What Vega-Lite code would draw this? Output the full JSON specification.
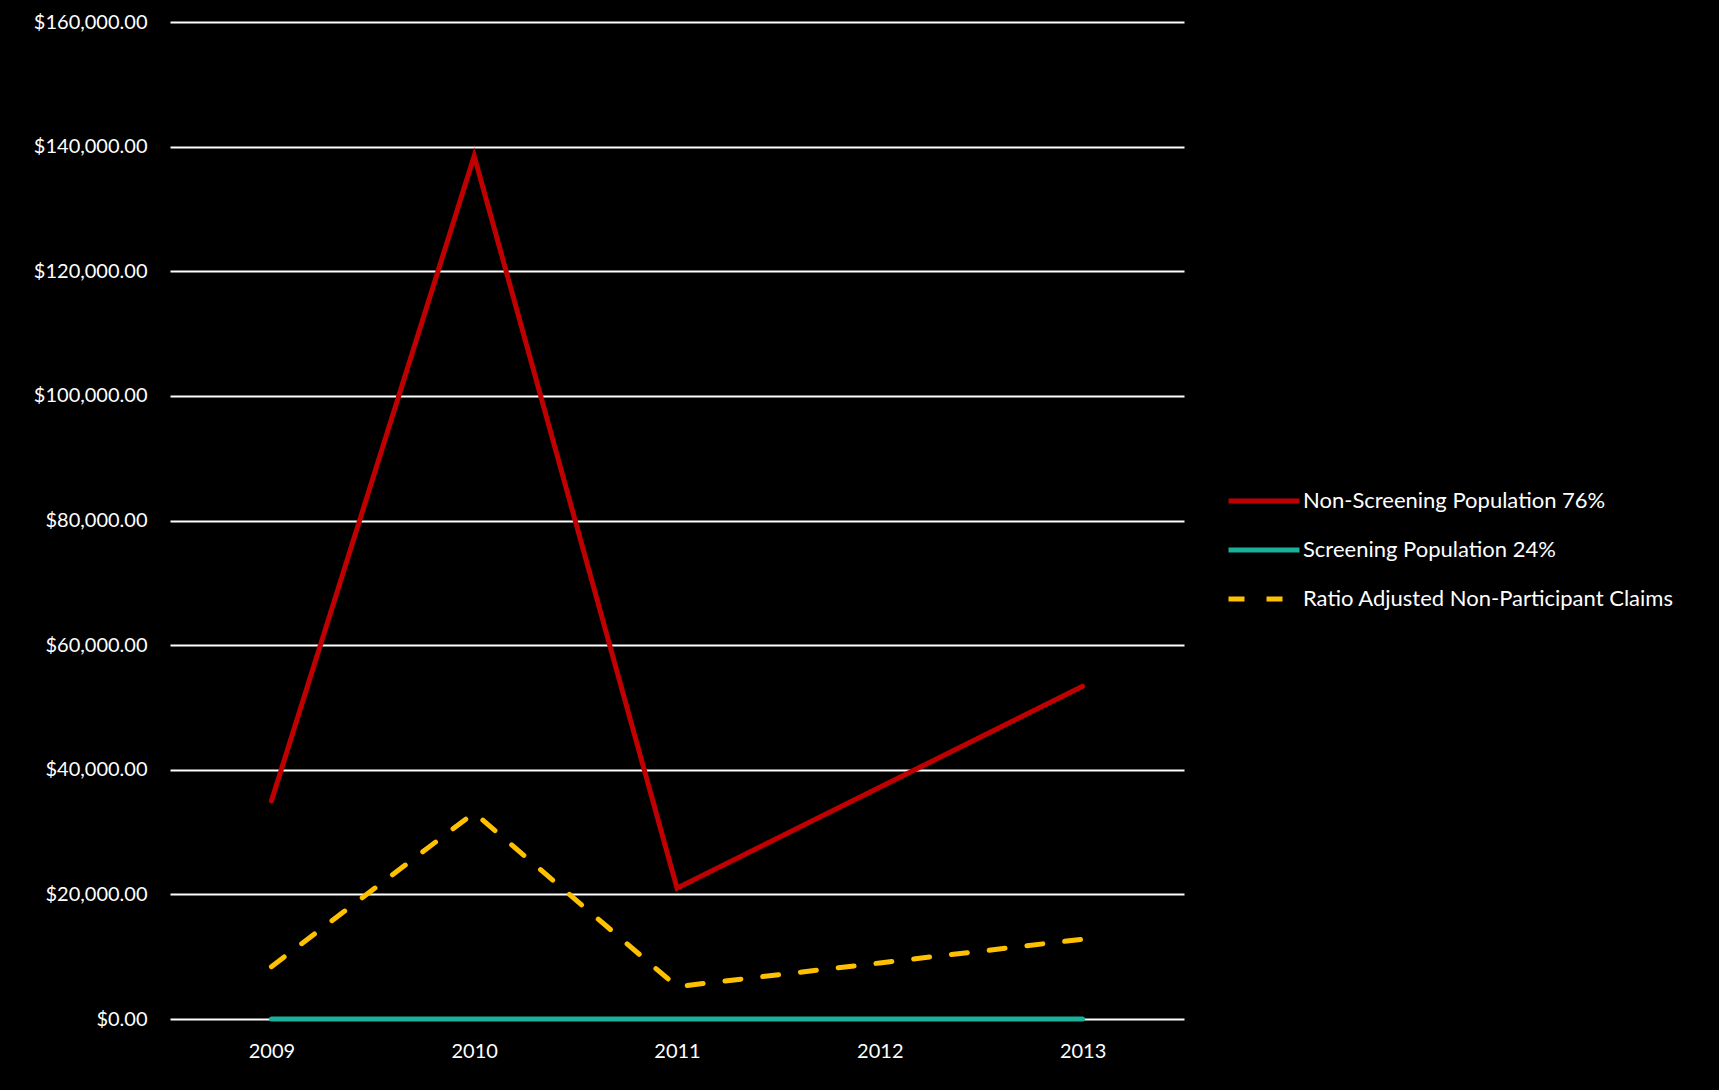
{
  "$schema": "https://vega.github.io/schema/vega-lite/v6.json",
  "autosize": {"type": "none"},
  "width": 1014,
  "height": 997,
  "padding": {"left": 170, "top": 22, "right": 535, "bottom": 71},
  "background": "#000000",
  "config": {
    "view": {"stroke": null},
    "font": "Lato",
    "axis": {"labelColor": "#FFFFFF", "labelFont": "Lato", "labelFontSize": 20, "domain": false, "ticks": false, "tickSize": 0}
  },
  "data": {
    "values": [
      {"year": "2009", "series": "Non-Screening Population 76%", "value": 35000},
      {"year": "2010", "series": "Non-Screening Population 76%", "value": 138500},
      {"year": "2011", "series": "Non-Screening Population 76%", "value": 21000},
      {"year": "2012", "series": "Non-Screening Population 76%", "value": 37200},
      {"year": "2013", "series": "Non-Screening Population 76%", "value": 53400},
      {"year": "2009", "series": "Screening Population 24%", "value": 0},
      {"year": "2010", "series": "Screening Population 24%", "value": 0},
      {"year": "2011", "series": "Screening Population 24%", "value": 0},
      {"year": "2012", "series": "Screening Population 24%", "value": 0},
      {"year": "2013", "series": "Screening Population 24%", "value": 0},
      {"year": "2009", "series": "Ratio Adjusted Non-Participant Claims", "value": 8400},
      {"year": "2010", "series": "Ratio Adjusted Non-Participant Claims", "value": 33100},
      {"year": "2011", "series": "Ratio Adjusted Non-Participant Claims", "value": 5200},
      {"year": "2012", "series": "Ratio Adjusted Non-Participant Claims", "value": 9000},
      {"year": "2013", "series": "Ratio Adjusted Non-Participant Claims", "value": 12800}
    ]
  },
  "mark": {"type": "line", "strokeWidth": 5, "strokeCap": "round", "strokeJoin": "miter"},
  "encoding": {
    "x": {
      "field": "year", "type": "ordinal", "title": null,
      "scale": {"type": "point", "padding": 0.5},
      "axis": {"labelAngle": 0, "labelPadding": 22, "grid": false}
    },
    "y": {
      "field": "value", "type": "quantitative", "title": null,
      "scale": {"domain": [0, 160000]},
      "axis": {"values": [0, 20000, 40000, 60000, 80000, 100000, 120000, 140000, 160000], "format": "$,.2f", "labelPadding": 23, "grid": true, "gridColor": "#FFFFFF", "gridWidth": 2, "gridOpacity": 1}
    },
    "color": {
      "field": "series", "type": "nominal", "title": null,
      "scale": {
        "domain": ["Non-Screening Population 76%", "Screening Population 24%", "Ratio Adjusted Non-Participant Claims"],
        "range": ["#C00000", "#1AB09A", "#FFC000"]
      },
      "legend": {
        "orient": "none", "legendX": 1056, "legendY": 441,
        "symbolType": "stroke", "symbolSize": 5041, "symbolStrokeWidth": 5,
        "labelColor": "#FFFFFF", "labelFont": "Lato", "labelFontSize": 22, "labelOffset": 1,
        "rowPadding": -40, "labelLimit": 600
      }
    },
    "strokeDash": {
      "field": "series", "type": "nominal", "title": null,
      "scale": {
        "domain": ["Non-Screening Population 76%", "Screening Population 24%", "Ratio Adjusted Non-Participant Claims"],
        "range": [[1, 0], [1, 0], [16, 22]]
      },
      "legend": {
        "orient": "none", "legendX": 1056, "legendY": 441,
        "symbolType": "stroke", "symbolSize": 5041, "symbolStrokeWidth": 5,
        "labelColor": "#FFFFFF", "labelFont": "Lato", "labelFontSize": 22, "labelOffset": 1,
        "rowPadding": -40, "labelLimit": 600
      }
    },
    "order": {"field": "series"}
  }
}
